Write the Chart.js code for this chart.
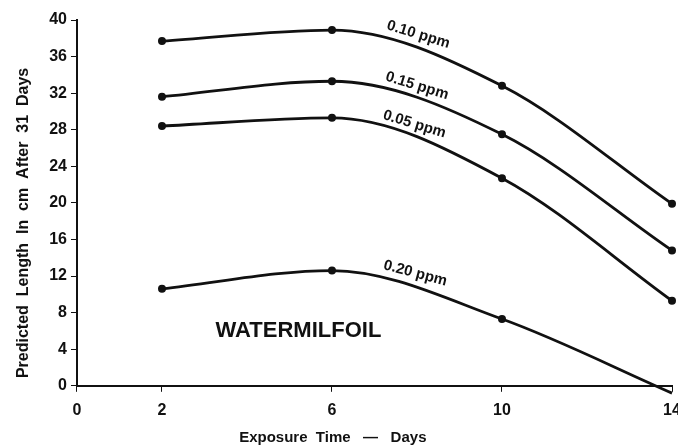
<!DOCTYPE html>
<html>
<head>
<meta charset="utf-8">
<script src="https://cdn.jsdelivr.net/npm/chart.js@4"></script>
<style>
  html, body { margin: 0; padding: 0; background: #fff; }
  #wrap { width: 678px; height: 447px; }
</style>
</head>
<body>
<div id="wrap"><canvas id="milfoilChart"></canvas></div>
<script>
// Exposure days and predicted length (cm) per concentration
var days = [2, 6, 10, 14];
var ppm010 = [37.7, 38.9, 32.8, 19.9];
var ppm015 = [31.6, 33.3, 27.5, 14.8];
var ppm005 = [28.4, 29.3, 22.7, 9.3];
var ppm020 = [10.6, 12.6, 7.3, -0.8];
var xTicks = [0, 2, 6, 10, 14];
var seriesNames = ["0.10 ppm", "0.15 ppm", "0.05 ppm", "0.20 ppm"];

function toPoints(ys) {
  return days.map(function (d, i) { return { x: d, y: ys[i] }; });
}

var FONT = "'Liberation Sans', Arial, sans-serif";
// trailing no-break spaces nudge the centred axis titles off-centre like the original
function pad(n) { return new Array(n + 1).join("\u00a0"); }

// labels written along the curves
var curveLabels = {
  id: "curveLabels",
  afterDatasetsDraw: function (chart) {
    var c = chart.ctx, xs = chart.scales.x, ys = chart.scales.y;
    var spots = [
      { t: seriesNames[0], x: 8.03, y: 38.4, a: 17 },
      { t: seriesNames[1], x: 8.0, y: 32.8, a: 17 },
      { t: seriesNames[2], x: 7.94, y: 28.6, a: 17 },
      { t: seriesNames[3], x: 7.96, y: 12.3, a: 15 }
    ];
    c.save();
    c.fillStyle = "#111";
    c.font = "bold 15px " + FONT;
    c.textAlign = "center";
    c.textBaseline = "middle";
    spots.forEach(function (s) {
      c.save();
      c.translate(xs.getPixelForValue(s.x), ys.getPixelForValue(s.y));
      c.rotate(s.a * Math.PI / 180);
      c.fillText(s.t, 0, 0);
      c.restore();
    });
    c.font = "bold 22px " + FONT;
    c.textAlign = "left";
    c.fillText("WATERMILFOIL", xs.getPixelForValue(3.26), ys.getPixelForValue(6.0));
    c.restore();
  }
};

function ds(label, ys) {
  return {
    label: label,
    data: toPoints(ys),
    borderColor: "#111",
    backgroundColor: "#111",
    borderWidth: 2.8,
    pointRadius: 2.6,
    pointHoverRadius: 2.6,
    cubicInterpolationMode: "monotone",
    clip: false,
    fill: false
  };
}

var ctx = document.getElementById("milfoilChart").getContext("2d");

new Chart(ctx, {
  type: "line",
  data: {
    datasets: [
      ds(seriesNames[0], ppm010),
      ds(seriesNames[1], ppm015),
      ds(seriesNames[2], ppm005),
      ds(seriesNames[3], ppm020)
    ]
  },
  options: {
    responsive: true,
    maintainAspectRatio: false,
    animation: false,
    layout: { padding: { top: 20, right: 6, left: 14, bottom: 0 } },
    plugins: { legend: { display: false }, tooltip: { enabled: false } },
    scales: {
      x: {
        type: "linear",
        min: 0,
        max: 14,
        afterBuildTicks: function (axis) {
          axis.ticks = xTicks.map(function (v) { return { value: v }; });
        },
        afterFit: function (axis) {
          axis.paddingRight = 0;
        },
        grid: { drawOnChartArea: false, drawTicks: true, tickLength: 6, color: "#111" },
        border: { display: true, color: "#111", width: 2 },
        ticks: { color: "#111", font: { family: FONT, size: 16, weight: "bold" }, padding: 9, maxRotation: 0 },
        title: {
          display: true,
          text: "Exposure  Time   \u2014   Days" + pad(20),
          color: "#111",
          font: { family: FONT, size: 15, weight: "bold" },
          padding: { top: 0, bottom: 0 }
        }
      },
      y: {
        min: 0,
        max: 40,
        ticks: { stepSize: 4, color: "#111", font: { family: FONT, size: 16, weight: "bold" }, padding: 4 },
        grid: { drawOnChartArea: false, drawTicks: true, tickLength: 6, color: "#111" },
        border: { display: true, color: "#111", width: 2 },
        title: {
          display: true,
          text: "Predicted  Length  In  cm  After  31  Days" + pad(9),
          color: "#111",
          font: { family: FONT, size: 16, weight: "bold" },
          padding: { top: 0, bottom: 12 }
        }
      }
    }
  },
  plugins: [curveLabels]
});
</script>
</body>
</html>
